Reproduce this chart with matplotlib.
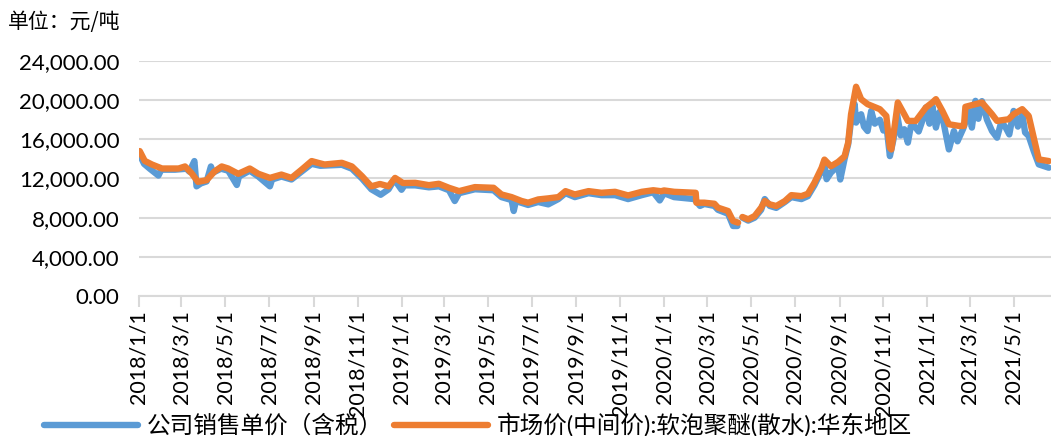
import matplotlib
matplotlib.use("Agg")
import matplotlib.pyplot as plt
import matplotlib.dates as mdates
from matplotlib.ticker import FuncFormatter
import numpy as np
import pandas as pd

nan = float("nan")

# 市场价(中间价):软泡聚醚(散水):华东地区
market_dates = [
    "2018-01-02", "2018-01-09", "2018-01-19", "2018-02-02", "2018-02-25", "2018-03-06",
    "2018-03-15", "2018-03-24", "2018-04-05", "2018-04-16", "2018-04-26", "2018-05-05",
    "2018-05-19", "2018-06-04", "2018-06-16", "2018-07-02", "2018-07-18", "2018-08-01",
    "2018-08-15", "2018-08-29", "2018-09-07", "2018-09-16", "2018-10-10", "2018-10-24",
    "2018-11-07", "2018-11-20", "2018-12-02", "2018-12-14", "2018-12-23", "2019-01-03",
    "2019-01-20", "2019-02-08", "2019-02-22", "2019-03-08", "2019-03-22", "2019-04-13",
    "2019-05-09", "2019-05-20", "2019-06-03", "2019-06-17", "2019-06-26", "2019-07-10",
    "2019-07-24", "2019-08-07", "2019-08-17", "2019-08-30", "2019-09-18", "2019-10-06",
    "2019-10-25", "2019-11-12", "2019-12-01", "2019-12-17", "2019-12-28", "2020-01-01",
    "2020-01-15", "2020-02-14", "2020-02-15", "2020-02-26", "2020-03-11", "2020-03-16",
    "2020-03-30", "2020-04-06", "2020-04-13", "2020-04-16", "2020-04-19", "2020-04-27",
    "2020-05-06", "2020-05-15", "2020-05-20", "2020-05-27", "2020-06-05", "2020-06-17",
    "2020-06-26", "2020-07-10", "2020-07-19", "2020-07-28", "2020-08-07", "2020-08-11",
    "2020-08-20", "2020-08-30", "2020-09-08", "2020-09-13", "2020-09-17", "2020-09-24",
    "2020-10-01", "2020-10-10", "2020-10-27", "2020-11-05", "2020-11-10", "2020-11-12",
    "2020-11-17", "2020-11-21", "2020-11-30", "2020-12-05", "2020-12-16", "2020-12-30",
    "2021-01-08", "2021-01-13", "2021-01-22", "2021-01-31", "2021-02-14", "2021-02-21",
    "2021-02-23", "2021-03-09", "2021-03-18", "2021-04-01", "2021-04-08", "2021-04-24",
    "2021-05-01", "2021-05-13", "2021-05-22", "2021-05-29", "2021-06-05", "2021-06-19",
]
market_vals = [
    14800, 13800, 13430, 13020, 13020, 13230,
    12550, 11660, 11830, 12720, 13230, 13020,
    12480, 13020, 12480, 12060, 12400, 12060,
    12900, 13780, 13600, 13430, 13600, 13230,
    12240, 11200, 11440, 11200, 12060, 11540,
    11560, 11320, 11460, 11050, 10710, 11120,
    11050, 10370, 10100, 9700, 9530, 9860,
    9970, 10100, 10710, 10370, 10710, 10540,
    10640, 10270, 10640, 10800, 10700, 10780,
    10640, 10540, 9530, 9530, 9420, 9020,
    8680, 7660, 7490, nan, 8070, 7830,
    8170, 9020, 9700, 9360, 9190, 9700,
    10300, 10200, 10440, 11560, 13080, 13930,
    13250, 13690, 14270, 15660, 18560, 21370,
    20100, 19590, 19080, 18390, 15150, 14970,
    17540, 19760, 18560, 17880, 17880, 19250,
    19760, 20100, 18900, 17540, 17370, 17370,
    19320, 19590, 19760, 18560, 17880, 18050,
    18560, 19080, 18390, 16170, 13950, 13780,
]

# 公司销售单价（含税）
company_dates = [
    "2018-01-01", "2018-01-08", "2018-01-16", "2018-01-28", "2018-02-01", "2018-02-20",
    "2018-03-08", "2018-03-12", "2018-03-19", "2018-03-22", "2018-03-28", "2018-04-05",
    "2018-04-11", "2018-04-14", "2018-04-25", "2018-05-05", "2018-05-17", "2018-05-20",
    "2018-06-04", "2018-06-16", "2018-07-02", "2018-07-05", "2018-07-18", "2018-08-01",
    "2018-08-15", "2018-08-29", "2018-09-10", "2018-10-10", "2018-10-24", "2018-11-07",
    "2018-11-20", "2018-12-03", "2018-12-14", "2018-12-22", "2019-01-01", "2019-01-05",
    "2019-01-20", "2019-02-08", "2019-02-22", "2019-03-08", "2019-03-16", "2019-03-22",
    "2019-04-13", "2019-05-09", "2019-05-20", "2019-06-03", "2019-06-06", "2019-06-09",
    "2019-06-26", "2019-07-10", "2019-07-24", "2019-08-07", "2019-08-17", "2019-08-30",
    "2019-09-18", "2019-10-06", "2019-10-25", "2019-11-12", "2019-12-01", "2019-12-17",
    "2019-12-26", "2020-01-01", "2020-01-15", "2020-02-12", "2020-02-20", "2020-02-26",
    "2020-03-11", "2020-03-16", "2020-03-30", "2020-04-06", "2020-04-12", "2020-04-16",
    "2020-04-19", "2020-04-27", "2020-05-06", "2020-05-15", "2020-05-20", "2020-05-27",
    "2020-06-05", "2020-06-17", "2020-06-26", "2020-07-10", "2020-07-19", "2020-07-28",
    "2020-08-07", "2020-08-11", "2020-08-14", "2020-08-20", "2020-08-30", "2020-09-02",
    "2020-09-08", "2020-09-13", "2020-09-17", "2020-09-22", "2020-09-24", "2020-10-01",
    "2020-10-05", "2020-10-10", "2020-10-15", "2020-10-20", "2020-10-27", "2020-11-01",
    "2020-11-05", "2020-11-10", "2020-11-15", "2020-11-20", "2020-11-25", "2020-11-30",
    "2020-12-05", "2020-12-09", "2020-12-12", "2020-12-20", "2020-12-25", "2020-12-30",
    "2021-01-04", "2021-01-08", "2021-01-13", "2021-01-18", "2021-01-22", "2021-01-31",
    "2021-02-07", "2021-02-12", "2021-02-20", "2021-02-28", "2021-03-04", "2021-03-09",
    "2021-03-13", "2021-03-18", "2021-03-25", "2021-04-01", "2021-04-08", "2021-04-14",
    "2021-04-20", "2021-04-25", "2021-05-01", "2021-05-07", "2021-05-13", "2021-05-17",
    "2021-05-22", "2021-05-29", "2021-06-05", "2021-06-19",
]
company_vals = [
    14600, 13500, 13000, 12300, 12900, 12900,
    13000, 12700, 13780, 11200, 11500, 11700,
    13230, 12600, 13000, 12800, 11340, 12200,
    12800, 12200, 11200, 11900, 12200, 11900,
    12700, 13500, 13300, 13400, 13000, 12000,
    10900, 10340, 10900, 11900, 10850, 11300,
    11300, 11100, 11200, 10800, 9700, 10500,
    10900, 10800, 10100, 9800, 8680, 9700,
    9300, 9600, 9360, 9900, 10500, 10100,
    10500, 10300, 10300, 9900, 10300, 10600,
    9760, 10500, 10100, 9900, 9200, 9400,
    9200, 8800, 8400, 7150, 7150, nan,
    8000, 7700, 8000, 8800, 9900, 9200,
    9000, 9600, 10100, 9900, 10200, 11300,
    12800, 13500, 11930, 12600, 13300, 11900,
    14000, 15500, 17900, 19590, 17710, 18560,
    17300, 16850, 18900, 17600, 18000, 16900,
    17500, 14290, 16000, 18560, 16400, 17030,
    15660, 17300, 17540, 16800, 17880, 19250,
    17600, 19400, 17200, 18800, 18300, 14970,
    16850, 15800, 17100, 18900, 17200, 19930,
    18100, 19900, 18000, 16850, 16170, 17800,
    17200, 16500, 18900, 17300, 18600, 16700,
    16340, 14800, 13440, 13100,
]

y_ticks = [0, 4000, 8000, 12000, 16000, 20000, 24000]
label_company = "公司销售单价（含税）"
label_market = "市场价(中间价):软泡聚醚(散水):华东地区"
unit_text = "单位：元/吨"

plt.rcParams["font.family"] = ["Lato", "Noto Sans CJK SC", "DejaVu Sans"]

fig = plt.figure(figsize=(10.51, 4.36), dpi=100)
ax = fig.add_axes([139 / 1051, 1 - 296 / 436, 1 - 139 / 1051, (296 - 61) / 436])

ax.plot(pd.to_datetime(company_dates), company_vals, color="#5B9BD5", lw=4.6,
        solid_capstyle="round", solid_joinstyle="round", label=label_company, zorder=3)
ax.plot(pd.to_datetime(market_dates), market_vals, color="#ED7D31", lw=4.6,
        solid_capstyle="round", solid_joinstyle="round", label=label_market, zorder=4)

ax.set_ylim(0, 24000)
ax.set_yticks(y_ticks)
ax.yaxis.set_major_formatter(FuncFormatter(lambda v, p: f"{v:,.2f}"))
ax.set_xlim(pd.Timestamp("2018-01-01"), pd.Timestamp("2021-06-22"))
ax.xaxis.set_major_locator(mdates.MonthLocator(bymonth=[1, 3, 5, 7, 9, 11]))
ax.xaxis.set_major_formatter(FuncFormatter(
    lambda v, p: "{0.year}/{0.month}/{0.day}".format(mdates.num2date(v))))

ax.grid(axis="y", color="#D9D9D9", lw=1.5)
ax.set_axisbelow(True)
for s in ["left", "right", "top"]:
    ax.spines[s].set_visible(False)
ax.spines["bottom"].set_color("#D9D9D9")
ax.spines["bottom"].set_linewidth(1.5)
ax.tick_params(axis="y", length=0, pad=14, labelsize=16, colors="black")
ax.tick_params(axis="x", length=8, width=1.5, color="#D9D9D9", pad=2, labelsize=15.5,
               labelrotation=90)
for lab in ax.get_xticklabels():
    lab.set_verticalalignment("top")

fig.text(8 / 1051, 1 - 22 / 436, unit_text, fontsize=15, va="center", ha="left",
         family=["Noto Sans CJK SC", "DejaVu Sans"])

# Lato first so the ascii brackets / colons come out narrow, CJK falls through
fig.legend(loc="center left", bbox_to_anchor=(44 / 1051, 1 - 425 / 436), ncol=2,
           frameon=False, prop={"family": ["Lato", "Noto Sans CJK SC", "DejaVu Sans"], "size": 17},
           handlelength=4.0, handletextpad=0.35, columnspacing=0.45, borderaxespad=0,
           borderpad=0)

fig.savefig("out.png", dpi=100)
